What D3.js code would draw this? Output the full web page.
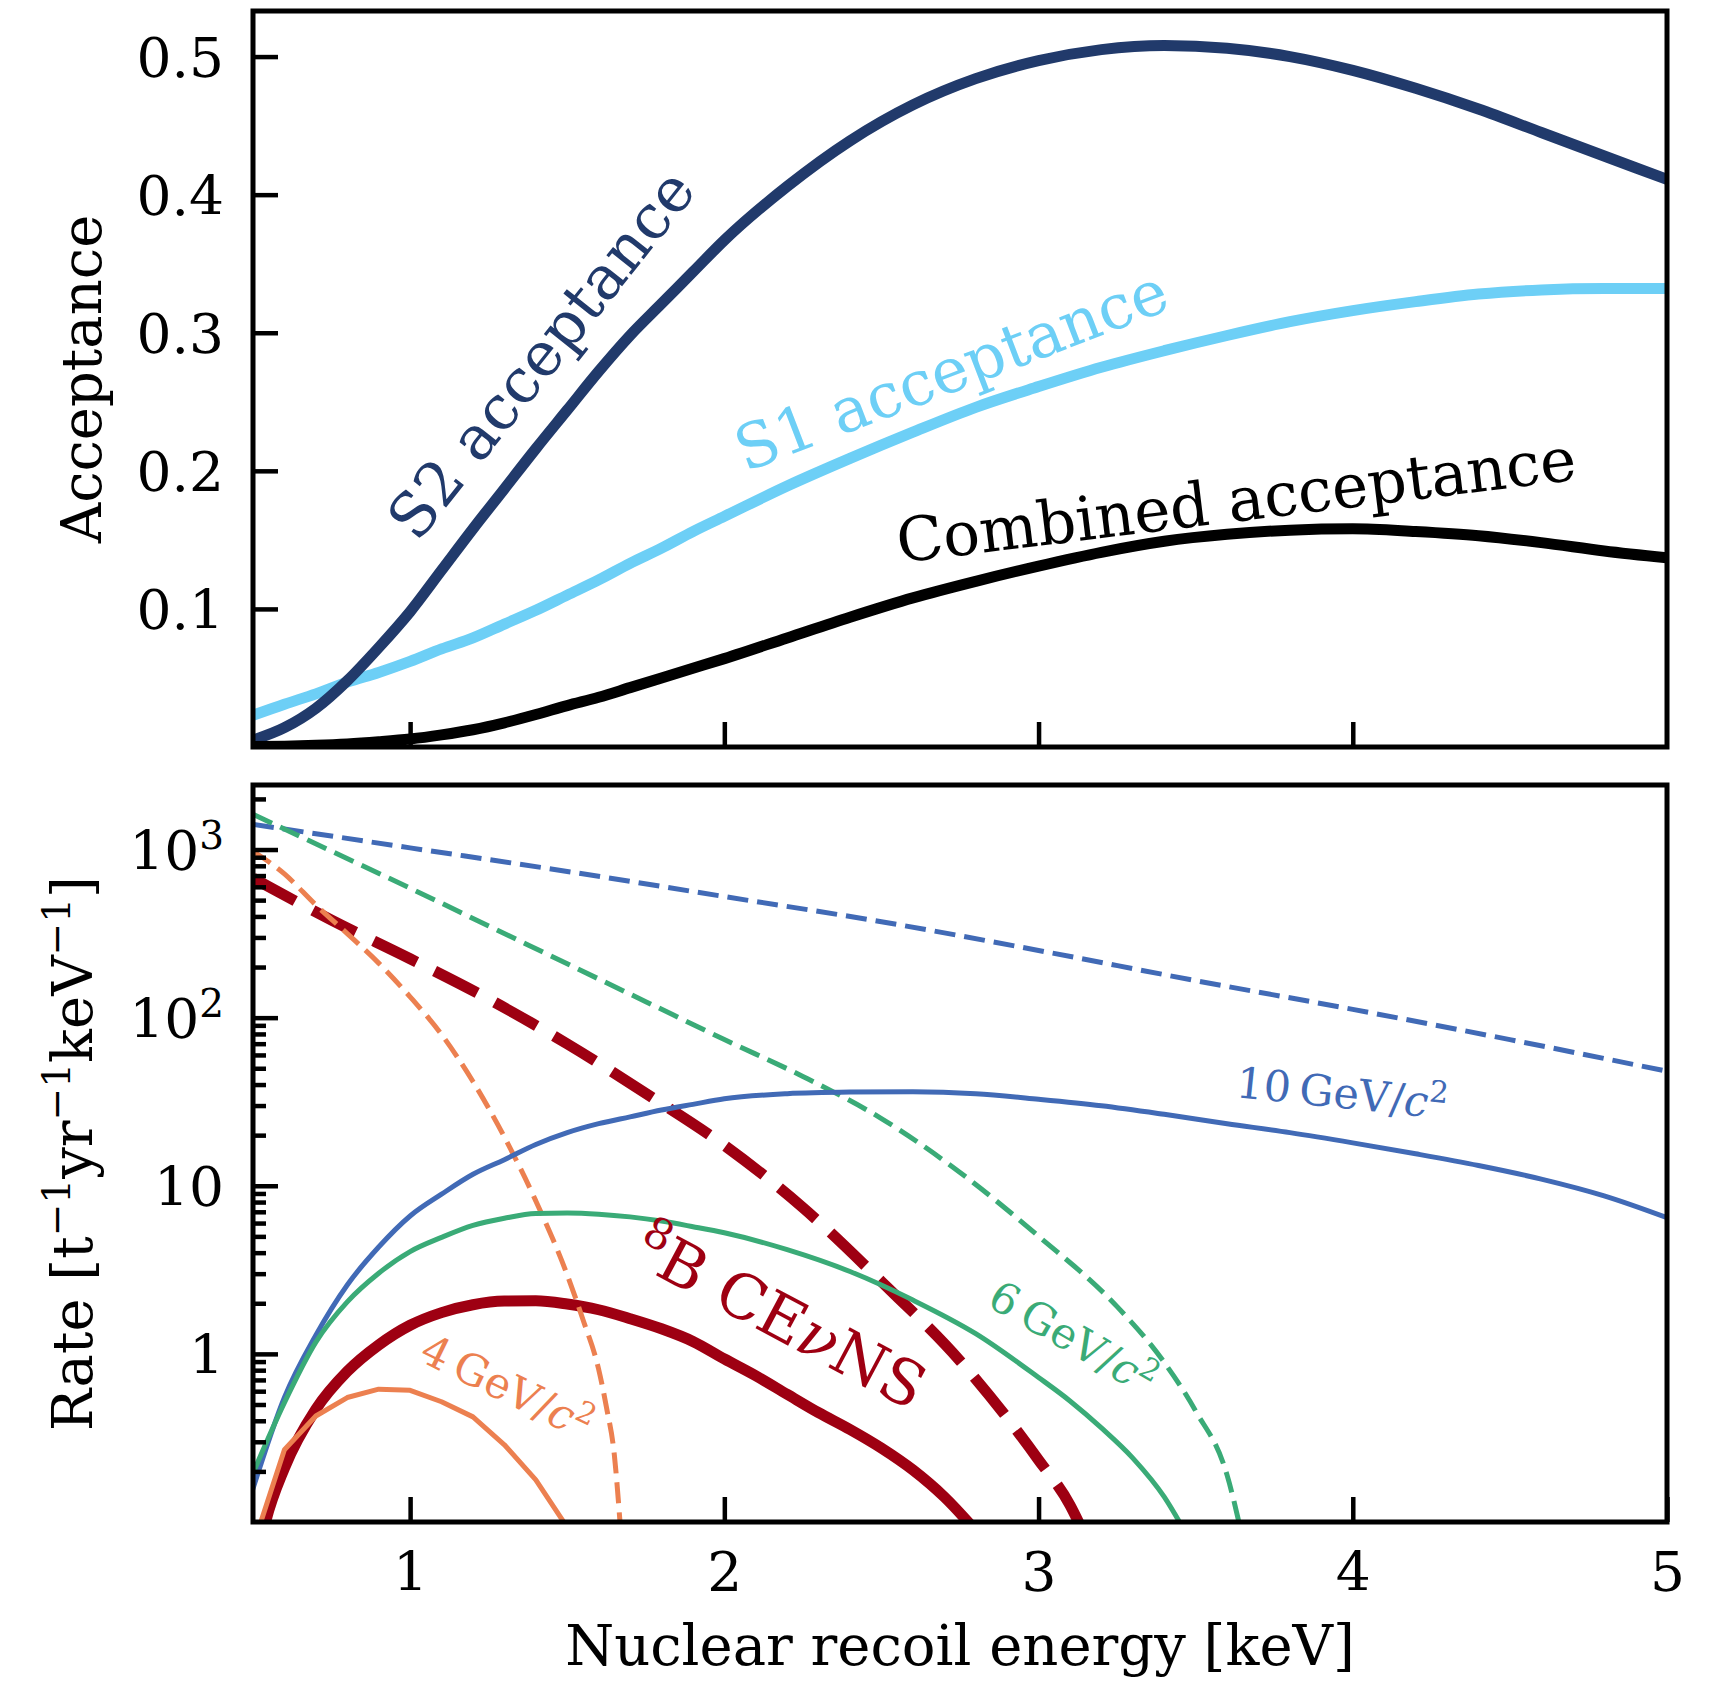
<!DOCTYPE html>
<html>
<head>
<meta charset="utf-8">
<script src="https://cdn.jsdelivr.net/npm/d3@7"></script>
<style>
  html, body { margin: 0; padding: 0; background: #fff; }
  svg { display: block; font-family: "DejaVu Serif", serif; }
</style>
</head>
<body>
<div id="chart"></div>
<script>
// Top panel: acceptance vs nuclear recoil energy [keV]
const accEnergy = [0.5, 0.6, 0.7, 0.8, 0.9, 1.0, 1.1, 1.2, 1.3, 1.4, 1.5, 1.6, 1.7, 1.8, 1.9, 2.0,
  2.2, 2.4, 2.6, 2.8, 3.0, 3.2, 3.4, 3.6, 3.8, 4.0, 4.2, 4.4, 4.6, 4.8, 5.0];
const s2Acceptance = [0.005, 0.014, 0.028, 0.048, 0.072, 0.098, 0.128, 0.158, 0.187, 0.216, 0.244,
  0.272, 0.298, 0.321, 0.344, 0.367, 0.406, 0.439, 0.465, 0.484, 0.497, 0.505, 0.508, 0.506, 0.500,
  0.490, 0.477, 0.462, 0.445, 0.428, 0.411];
const s1Acceptance = [0.023, 0.031, 0.0385, 0.047, 0.054, 0.062, 0.071, 0.079, 0.089, 0.099, 0.110,
  0.121, 0.133, 0.144, 0.156, 0.167, 0.189, 0.209, 0.228, 0.246, 0.261, 0.275, 0.287, 0.298, 0.308,
  0.316, 0.3225, 0.328, 0.331, 0.332, 0.332];
const combinedAcceptance = [0.0004, 0.0006, 0.0012, 0.0022, 0.0038, 0.0058, 0.0088, 0.0125, 0.0175,
  0.0235, 0.030, 0.036, 0.043, 0.050, 0.057, 0.064, 0.079, 0.094, 0.108, 0.120, 0.131, 0.141, 0.149,
  0.154, 0.157, 0.158, 0.156, 0.153, 0.148, 0.142, 0.137];

// Bottom panel: rate [t^-1 yr^-1 keV^-1], dashed = before acceptance, solid = after
const wimp10Energy = [0.5, 1.0, 1.5, 2.0, 2.5, 3.0, 3.5, 4.0, 4.5, 5.0];
const wimp10Raw = [1413, 1023, 741, 525, 372, 251, 166, 112, 74, 48];
const wimp6RawEnergy = [0.5, 0.75, 1.0, 1.25, 1.5, 1.75, 2.0, 2.25, 2.5, 2.75, 3.0, 3.25, 3.4, 3.5, 3.6, 3.65];
const wimp6Raw = [1622, 977, 589, 351, 209, 124.5, 74.1, 44.7, 25.1, 12.0, 5.01, 1.91, 0.89, 0.457, 0.19, 0.079];
const wimp4RawEnergy = [0.5, 0.6, 0.7, 0.8, 0.9, 1.0, 1.1, 1.2, 1.3, 1.4, 1.5, 1.55, 1.6, 1.625, 1.65, 1.67];
const wimp4Raw = [977, 716, 468, 316, 211, 133, 79.4, 41.7, 19.5, 8.13, 2.95, 1.60, 0.81, 0.48, 0.25, 0.089];
const cevnsRawEnergy = [0.5, 0.75, 1.0, 1.25, 1.5, 1.75, 2.0, 2.25, 2.5, 2.75, 3.0, 3.1, 3.14];
const cevnsRaw = [676, 380, 224, 129, 69.8, 35.5, 17.4, 7.41, 2.69, 0.91, 0.234, 0.126, 0.089];

const wimp10AccEnergy = [0.5, 0.6, 0.7, 0.8, 0.9, 1.0, 1.1, 1.2, 1.3, 1.4, 1.5, 1.6, 1.7, 1.8, 1.9, 2.0,
  2.2, 2.4, 2.6, 2.8, 3.0, 3.2, 3.4, 3.6, 3.8, 4.0, 4.2, 4.4, 4.6, 4.8, 5.0];
const wimp10Acc = [0.158, 0.55, 1.29, 2.57, 4.32, 6.61, 8.91, 11.7, 14.3, 17.6, 20.7, 23.4, 25.7, 28.2,
  30.5, 32.9, 35.3, 36.1, 36.3, 35.3, 32.7, 29.9, 26.6, 23.4, 20.7, 18.0, 15.5, 13.2, 10.96, 8.71, 6.46];
const wimp6AccEnergy = [0.5, 0.6, 0.7, 0.8, 0.9, 1.0, 1.1, 1.2, 1.3, 1.4, 1.5, 1.6, 1.7, 1.8, 1.9, 2.0,
  2.2, 2.4, 2.6, 2.8, 3.0, 3.1, 3.2, 3.3, 3.4, 3.47];
const wimp6Acc = [0.195, 0.513, 1.175, 2.04, 3.02, 4.06, 4.93, 5.81, 6.41, 6.84, 6.89, 6.78, 6.53, 6.17,
  5.71, 5.25, 4.17, 3.09, 2.09, 1.32, 0.724, 0.525, 0.363, 0.240, 0.141, 0.085];
const wimp4AccEnergy = [0.5, 0.6, 0.7, 0.8, 0.9, 1.0, 1.1, 1.2, 1.3, 1.4, 1.5];
const wimp4Acc = [0.072, 0.269, 0.427, 0.55, 0.617, 0.607, 0.519, 0.422, 0.288, 0.178, 0.093];
const cevnsAccEnergy = [0.5, 0.54, 0.6, 0.7, 0.8, 0.9, 1.0, 1.1, 1.2, 1.3, 1.4, 1.5, 1.6, 1.7, 1.8, 1.9,
  2.0, 2.1, 2.2, 2.3, 2.4, 2.5, 2.6, 2.7, 2.8];
const cevnsAcc = [0.0447, 0.1, 0.209, 0.468, 0.786, 1.13, 1.48, 1.76, 1.96, 2.06, 2.07, 1.98, 1.83,
  1.62, 1.41, 1.186, 0.933, 0.741, 0.575, 0.447, 0.355, 0.275, 0.204, 0.141, 0.089];

// Ticks
const energyTicks = [1, 2, 3, 4, 5];
const accTicks = [0.1, 0.2, 0.3, 0.4, 0.5];
const rateTicks = [1, 10, 100, 1000];
const rateMinorTicks = [0.2, 0.3, 0.4, 0.5, 0.6, 0.7, 0.8, 0.9, 2, 3, 4, 5, 6, 7, 8, 9,
  20, 30, 40, 50, 60, 70, 80, 90, 200, 300, 400, 500, 600, 700, 800, 900, 2000];

// Layout
const W = 1711, H = 1681;
const LEFT = 253, RIGHT = 1667;
const TOP1 = 11, BOT1 = 747;
const TOP2 = 785, BOT2 = 1522;
const TICK_MAJOR = 25, TICK_MINOR = 13;
const TICK_FONT = 55, LABEL_FONT = 56;

const COLORS = {
  s2: "#213a6b",
  s1: "#6dcff6",
  combined: "#000000",
  w10: "#416ab6",
  w6: "#3aab77",
  w4: "#ec8050",
  cevns: "#9e0012",
};

const svg = d3.select("#chart").append("svg").attr("width", W).attr("height", H);

const x = d3.scaleLinear().domain([0.5, 5]).range([LEFT, RIGHT]);
const yAcc = d3.scaleLinear().domain([0, 0.533]).range([BOT1, TOP1]);
const yRate = d3.scaleLog().domain([0.1, 2420]).range([BOT2, TOP2]);

// Clip paths for the two panels
const defs = svg.append("defs");
defs.append("clipPath").attr("id", "clip-top").append("rect")
  .attr("x", LEFT).attr("y", TOP1).attr("width", RIGHT - LEFT).attr("height", BOT1 - TOP1);
defs.append("clipPath").attr("id", "clip-bottom").append("rect")
  .attr("x", LEFT).attr("y", TOP2).attr("width", RIGHT - LEFT).attr("height", BOT2 - TOP2);

function styleAxis(g) {
  g.select(".domain").remove();
  g.attr("font-family", "DejaVu Serif").attr("font-size", TICK_FONT);
  g.selectAll(".tick line").attr("stroke", "#000").attr("stroke-width", 4.5);
  g.selectAll(".tick text").attr("fill", "#000");
}

function drawLine(g, yScale, xs, ys, color, width, dash, curve) {
  const line = d3.line()
    .x((d) => x(d[0]))
    .y((d) => yScale(d[1]))
    .curve(curve || d3.curveMonotoneX);
  g.append("path")
    .datum(d3.zip(xs, ys))
    .attr("d", line)
    .attr("fill", "none")
    .attr("stroke", color)
    .attr("stroke-width", width)
    .attr("stroke-linejoin", "round")
    .attr("stroke-linecap", dash ? "butt" : "square")
    .attr("stroke-dasharray", dash || null);
}

// ---------- Top panel ----------
const ACC_WIDTH = 11;
const gTop = svg.append("g").attr("clip-path", "url(#clip-top)");
drawLine(gTop, yAcc, accEnergy, s1Acceptance, COLORS.s1, ACC_WIDTH);
drawLine(gTop, yAcc, accEnergy, s2Acceptance, COLORS.s2, ACC_WIDTH);
drawLine(gTop, yAcc, accEnergy, combinedAcceptance, COLORS.combined, ACC_WIDTH);

const gyAcc = svg.append("g").attr("transform", `translate(${LEFT},0)`)
  .call(d3.axisLeft(yAcc).tickValues(accTicks).tickSize(-TICK_MAJOR).tickPadding(29)
    .tickFormat(d3.format(".1f")));
styleAxis(gyAcc);
gyAcc.selectAll(".tick text").attr("dy", "0.36em");

const gxTop = svg.append("g").attr("transform", `translate(0,${BOT1})`)
  .call(d3.axisBottom(x).tickValues(energyTicks.slice(0, 4)).tickSize(-TICK_MAJOR).tickFormat(""));
styleAxis(gxTop);

svg.append("rect")
  .attr("x", LEFT).attr("y", TOP1).attr("width", RIGHT - LEFT).attr("height", BOT1 - TOP1)
  .attr("fill", "none").attr("stroke", "#000").attr("stroke-width", 5);

// Curve labels (top)
const topLabels = [
  { text: "S2 acceptance", x: 541, y: 354, angle: -51.5, size: 61, color: COLORS.s2 },
  { text: "S1 acceptance", x: 951, y: 370, angle: -21, size: 62, color: COLORS.s1 },
  { text: "Combined acceptance", x: 1236, y: 500, angle: -7, size: 61, color: COLORS.combined },
];
topLabels.forEach((l) => {
  svg.append("text")
    .attr("transform", `translate(${l.x},${l.y}) rotate(${l.angle})`)
    .attr("text-anchor", "middle")
    .attr("dy", "0.35em")
    .attr("font-size", l.size)
    .attr("fill", l.color)
    .text(l.text);
});

svg.append("text")
  .attr("transform", `translate(101,${(TOP1 + BOT1) / 2}) rotate(-90)`)
  .attr("text-anchor", "middle")
  .attr("font-size", LABEL_FONT)
  .text("Acceptance");

// ---------- Bottom panel ----------
const gBot = svg.append("g").attr("clip-path", "url(#clip-bottom)");
const THIN = 5, THICK = 11;
const DASH_THIN = "21,9", DASH_THICK = "48,20";

// Neutrino background first, WIMP spectra over it
drawLine(gBot, yRate, cevnsRawEnergy, cevnsRaw, COLORS.cevns, THICK, DASH_THICK);
drawLine(gBot, yRate, cevnsAccEnergy, cevnsAcc, COLORS.cevns, THICK);
drawLine(gBot, yRate, wimp10Energy, wimp10Raw, COLORS.w10, THIN, DASH_THIN);
drawLine(gBot, yRate, wimp6RawEnergy, wimp6Raw, COLORS.w6, THIN, DASH_THIN);
drawLine(gBot, yRate, wimp4RawEnergy, wimp4Raw, COLORS.w4, THIN, DASH_THIN);
drawLine(gBot, yRate, wimp10AccEnergy, wimp10Acc, COLORS.w10, THIN);
drawLine(gBot, yRate, wimp6AccEnergy, wimp6Acc, COLORS.w6, THIN);
drawLine(gBot, yRate, wimp4AccEnergy, wimp4Acc, COLORS.w4, THIN, null, d3.curveLinear);

const gyRateMinor = svg.append("g").attr("transform", `translate(${LEFT},0)`)
  .call(d3.axisLeft(yRate).tickValues(rateMinorTicks).tickSize(-TICK_MINOR).tickFormat(""));
styleAxis(gyRateMinor);

const gyRate = svg.append("g").attr("transform", `translate(${LEFT},0)`)
  .call(d3.axisLeft(yRate).tickValues(rateTicks).tickSize(-TICK_MAJOR).tickPadding(29)
    .tickFormat(() => ""));
styleAxis(gyRate);
gyRate.selectAll(".tick text").attr("dy", "0.36em").each(function (d) {
  const t = d3.select(this);
  if (d < 100) {
    t.text(d);
  } else {
    t.append("tspan").text("10");
    t.append("tspan").attr("dy", -21).attr("font-size", 39).text(Math.round(Math.log10(d)));
  }
});

const gxBot = svg.append("g").attr("transform", `translate(0,${BOT2})`)
  .call(d3.axisBottom(x).tickValues(energyTicks).tickSize(-TICK_MAJOR).tickPadding(30)
    .tickFormat(d3.format("d")));
styleAxis(gxBot);

svg.append("rect")
  .attr("x", LEFT).attr("y", TOP2).attr("width", RIGHT - LEFT).attr("height", BOT2 - TOP2)
  .attr("fill", "none").attr("stroke", "#000").attr("stroke-width", 5);

// WIMP mass labels
const massLabels = [
  { mass: "10", x: 1342, y: 1093, angle: 6, color: COLORS.w10 },
  { mass: "6", x: 1073, y: 1338, angle: 30, color: COLORS.w6 },
  { mass: "4", x: 507, y: 1387, angle: 26, color: COLORS.w4 },
];
massLabels.forEach((l) => {
  const t = svg.append("text")
    .attr("transform", `translate(${l.x},${l.y}) rotate(${l.angle})`)
    .attr("text-anchor", "middle")
    .attr("dy", "0.35em")
    .attr("font-size", 43)
    .attr("fill", l.color);
  t.append("tspan").text(l.mass + "\u2009GeV/");
  t.append("tspan").attr("font-style", "italic").text("c");
  t.append("tspan").attr("dy", -16).attr("font-size", 30).text("2");
});

const cevnsLabel = svg.append("text")
  .attr("transform", "translate(770,1336) rotate(28)")
  .attr("text-anchor", "middle")
  .attr("dy", "0.35em")
  .attr("font-size", 62)
  .attr("fill", COLORS.cevns);
cevnsLabel.append("tspan").attr("dy", -23).attr("font-size", 43).text("8");
cevnsLabel.append("tspan").attr("dy", 23).text("B CE");
cevnsLabel.append("tspan").attr("font-style", "italic").text("\u03bd");
cevnsLabel.append("tspan").text("NS");

// Rate axis label with superscripts
const rateLabelParts = [
  ["Rate [t", false], ["\u22121", true], ["yr", false], ["\u22121", true],
  ["keV", false], ["\u22121", true], ["]", false],
];
const rateLabel = svg.append("text")
  .attr("transform", `translate(92,${(TOP2 + BOT2) / 2}) rotate(-90)`)
  .attr("text-anchor", "middle")
  .attr("font-size", LABEL_FONT);
let raised = false;
rateLabelParts.forEach(([s, sup]) => {
  const ts = rateLabel.append("tspan").text(s);
  if (sup && !raised) ts.attr("dy", -22).attr("font-size", 39);
  if (!sup && raised) ts.attr("dy", 22);
  raised = sup;
});

svg.append("text")
  .attr("x", (LEFT + RIGHT) / 2)
  .attr("y", 1665)
  .attr("text-anchor", "middle")
  .attr("font-size", LABEL_FONT)
  .text("Nuclear recoil energy [keV]");
</script>
</body>
</html>
